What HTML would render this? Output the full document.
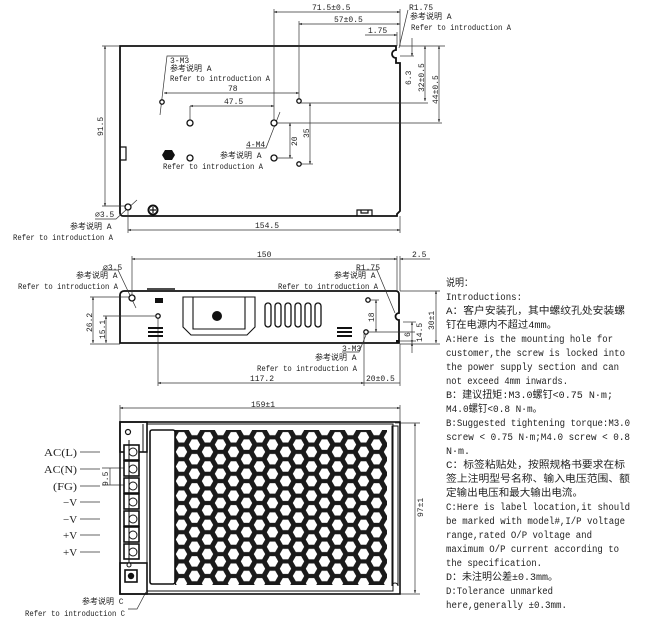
<!DOCTYPE html>
<html><head><meta charset="utf-8"><style>
html,body{margin:0;padding:0;background:#fff;}
svg{display:block;}
text{font-family:"Liberation Mono","Noto Sans CJK SC",monospace;fill:#222;}
.s{font-size:8px;}
.r{font-size:10px;}
text.sf{font-family:"Liberation Serif",serif;font-size:11px;}
</style></head><body>
<svg width="659" height="619" viewBox="0 0 659 619" xmlns="http://www.w3.org/2000/svg">
<defs>
<marker id="a" viewBox="0 0 10 10" refX="10" refY="5" markerWidth="6" markerHeight="4" orient="auto-start-reverse"><path d="M0,1 L10,5 L0,9z" fill="#222"/></marker>
<pattern id="hex" x="175" y="430" width="26" height="14.6" patternUnits="userSpaceOnUse">
<rect width="26" height="14.6" fill="#1a1a1a"/>
<polygon points="0.8,7.3 3.8,2.1 9.2,2.1 12.2,7.3 9.2,12.5 3.8,12.5" fill="#fff"/>
<polygon points="13.8,0 16.8,-5.2 22.2,-5.2 25.2,0 22.2,5.2 16.8,5.2" fill="#fff"/>
<polygon points="13.8,14.6 16.8,9.4 22.2,9.4 25.2,14.6 22.2,19.8 16.8,19.8" fill="#fff"/>
</pattern>
</defs>
<g stroke="#333" stroke-width="0.7" fill="none">
<path d="M120,46 H396 V50 A3,3 0 0 0 396,58 V63 H400 V211 L397,214 V216 H123 A3,3 0 0 1 120,213 Z" stroke="#111" stroke-width="1.8"/>
<path d="M120,147 H126 V160 H120" stroke="#111" stroke-width="1.2"/>
<path d="M357,216 V210 H372 V216 M361,210 V213 H368 V210" stroke="#111" stroke-width="1.2"/>
<line x1="274" y1="12" x2="400" y2="12" marker-start="url(#a)" marker-end="url(#a)"/>
<line x1="299" y1="24" x2="400" y2="24" marker-start="url(#a)" marker-end="url(#a)"/>
<line x1="365" y1="35" x2="397" y2="35" marker-end="url(#a)"/>
<line x1="274" y1="9" x2="274" y2="122"/>
<line x1="299" y1="21" x2="299" y2="101"/>
<line x1="400" y1="9" x2="400" y2="46"/>
<line x1="397" y1="32" x2="397" y2="46"/>
<line x1="408" y1="10" x2="399" y2="48"/>
<line x1="400" y1="56" x2="414" y2="56"/>
<line x1="412" y1="38" x2="412" y2="56" marker-end="url(#a)"/>
<line x1="400" y1="46" x2="445" y2="46"/>
<line x1="425" y1="46" x2="425" y2="101" marker-start="url(#a)" marker-end="url(#a)"/>
<line x1="439" y1="46" x2="439" y2="122" marker-start="url(#a)" marker-end="url(#a)"/>
<line x1="300" y1="103" x2="428" y2="103"/>
<line x1="276" y1="123" x2="442" y2="123"/>
<line x1="105" y1="46" x2="105" y2="206" marker-start="url(#a)" marker-end="url(#a)"/>
<line x1="102" y1="46" x2="120" y2="46"/>
<line x1="102" y1="206" x2="125" y2="206"/>
<line x1="128" y1="230" x2="400" y2="230" marker-start="url(#a)" marker-end="url(#a)"/>
<line x1="128" y1="210" x2="128" y2="233"/>
<line x1="400" y1="216" x2="400" y2="233"/>
<line x1="164" y1="93" x2="299" y2="93" marker-start="url(#a)" marker-end="url(#a)"/>
<line x1="190" y1="106" x2="274" y2="106" marker-start="url(#a)" marker-end="url(#a)"/>
<line x1="190" y1="106" x2="190" y2="120"/>
<line x1="290" y1="123" x2="290" y2="158" marker-start="url(#a)" marker-end="url(#a)"/>
<line x1="276" y1="158" x2="293" y2="158"/>
<line x1="310" y1="103" x2="310" y2="164" marker-start="url(#a)" marker-end="url(#a)"/>
<line x1="301" y1="164" x2="313" y2="164"/>
<polyline points="188,56 167,56 160,115"/>
<polyline points="246,148 266,148 280,112"/>
<polyline points="95,219 116,219 137,200"/>
</g>
<g fill="#fff" stroke="#111" stroke-width="1.3">
<circle cx="162" cy="102" r="2.2"/><circle cx="190" cy="123" r="3"/><circle cx="274" cy="123" r="3"/>
<circle cx="299" cy="101" r="2.2"/><circle cx="190" cy="158" r="3"/><circle cx="274" cy="158" r="3"/>
<circle cx="299" cy="164" r="2.2"/><circle cx="128" cy="207" r="3"/>
<circle cx="153" cy="210" r="4.5" stroke-width="2"/>
</g>
<polygon points="165,150 172,150 175,155 172,160 165,160 162,155" fill="#111"/>
<path d="M150,210 H156 M153,207 V213" stroke="#111" stroke-width="1.2"/>
<g class="s">
<text x="312" y="10">71.5±0.5</text>
<text x="334" y="22">57±0.5</text>
<text x="368" y="33">1.75</text>
<text x="409" y="10">R1.75</text>
<text x="410" y="19">参考说明 A</text>
<text x="411" y="30" textLength="100" lengthAdjust="spacingAndGlyphs">Refer to introduction A</text>
<text x="170" y="63">3-M3</text>
<text x="170" y="71">参考说明 A</text>
<text x="170" y="81" textLength="100" lengthAdjust="spacingAndGlyphs">Refer to introduction A</text>
<text x="228" y="91">78</text>
<text x="224" y="104">47.5</text>
<text x="246" y="147">4-M4</text>
<text x="220" y="158">参考说明 A</text>
<text x="163" y="169" textLength="100" lengthAdjust="spacingAndGlyphs">Refer to introduction A</text>
<text x="95" y="217">⌀3.5</text>
<text x="70" y="229">参考说明 A</text>
<text x="13" y="240" textLength="100" lengthAdjust="spacingAndGlyphs">Refer to introduction A</text>
<text x="255" y="228">154.5</text>
<text transform="translate(103,136) rotate(-90)">91.5</text>
<text transform="translate(297,146) rotate(-90)">20</text>
<text transform="translate(309,138) rotate(-90)">35</text>
<text transform="translate(411,85) rotate(-90)">6.3</text>
<text transform="translate(424,92) rotate(-90)">32±0.5</text>
<text transform="translate(438,104) rotate(-90)">44±0.5</text>
</g>

<g stroke="#333" stroke-width="0.7" fill="none">
<path d="M124,291 H396 A3,3 0 0 1 399,294 V313 A3,3 0 0 0 399,320 V343 H120 V295 A4,4 0 0 1 124,291 Z" stroke="#111" stroke-width="1.8"/>
<line x1="147" y1="289" x2="175" y2="289" stroke="#111" stroke-width="1.5"/>
<path d="M183,297 H255 V327 L247,335 H191 L183,327 Z M193,297 V329 H245 V297" stroke="#111" stroke-width="1.1"/>
<line x1="132" y1="259" x2="397" y2="259" marker-start="url(#a)" marker-end="url(#a)"/>
<line x1="132" y1="256" x2="132" y2="296"/>
<line x1="397" y1="256" x2="397" y2="291"/>
<line x1="400" y1="256" x2="400" y2="291"/>
<line x1="430" y1="259" x2="400" y2="259" marker-end="url(#a)"/>
<line x1="380" y1="259" x2="397" y2="259"/>
<polyline points="102,270 118,270 136,308"/>
<polyline points="356,270 377,270 395,313"/>
<line x1="93" y1="297" x2="93" y2="343" marker-start="url(#a)" marker-end="url(#a)"/>
<line x1="90" y1="297" x2="130" y2="297"/>
<line x1="106" y1="316" x2="106" y2="343" marker-start="url(#a)" marker-end="url(#a)"/>
<line x1="103" y1="316" x2="155" y2="316"/>
<line x1="90" y1="344" x2="120" y2="344"/>
<line x1="376" y1="300" x2="376" y2="332" marker-start="url(#a)" marker-end="url(#a)"/>
<line x1="370" y1="300" x2="379" y2="300"/>
<line x1="368" y1="332" x2="415" y2="332"/>
<line x1="436" y1="291" x2="436" y2="343" marker-start="url(#a)" marker-end="url(#a)"/>
<line x1="400" y1="291" x2="440" y2="291"/><line x1="400" y1="344" x2="440" y2="344"/>
<line x1="412" y1="322" x2="412" y2="343" marker-start="url(#a)" marker-end="url(#a)"/>
<line x1="403" y1="322" x2="416" y2="322"/>
<line x1="412" y1="353" x2="412" y2="343" marker-end="url(#a)"/>
<line x1="400" y1="341" x2="416" y2="341"/>
<polyline points="342,352 359,352 368,330"/>
<line x1="158" y1="318" x2="158" y2="386"/>
<line x1="364" y1="334" x2="364" y2="386"/>
<line x1="400" y1="344" x2="400" y2="386"/>
<line x1="158" y1="383" x2="364" y2="383" marker-start="url(#a)" marker-end="url(#a)"/>
<line x1="364" y1="383" x2="400" y2="383"/>
</g>
<g fill="#fff" stroke="#111" stroke-width="1.3">
<circle cx="132" cy="298" r="3"/><circle cx="158" cy="316" r="2.2"/>
<circle cx="368" cy="300" r="2.2"/><circle cx="366" cy="332" r="2.2"/>
<rect x="265" y="303" width="6" height="24" rx="3"/><rect x="275" y="303" width="6" height="24" rx="3"/>
<rect x="285" y="303" width="6" height="24" rx="3"/><rect x="295" y="303" width="6" height="24" rx="3"/>
<rect x="305" y="303" width="6" height="24" rx="3"/><rect x="315" y="303" width="6" height="24" rx="3"/>
</g>
<circle cx="217" cy="316" r="5" fill="#111"/>
<rect x="155" y="298" width="8" height="5" fill="#111"/>
<g fill="#111">
<rect x="148" y="327" width="15" height="2"/><rect x="148" y="331" width="15" height="2"/><rect x="148" y="335" width="15" height="2"/>
<rect x="337" y="327" width="15" height="2"/><rect x="337" y="331" width="15" height="2"/><rect x="337" y="335" width="15" height="2"/>
<rect x="396" y="340" width="3" height="3"/>
</g>
<g class="s">
<text x="257" y="257">150</text>
<text x="412" y="257">2.5</text>
<text x="103" y="270">⌀3.5</text>
<text x="76" y="278">参考说明 A</text>
<text x="18" y="289" textLength="100" lengthAdjust="spacingAndGlyphs">Refer to introduction A</text>
<text x="356" y="270">R1.75</text>
<text x="334" y="278">参考说明 A</text>
<text x="278" y="289" textLength="100" lengthAdjust="spacingAndGlyphs">Refer to introduction A</text>
<text x="342" y="351">3-M3</text>
<text x="315" y="360">参考说明 A</text>
<text x="257" y="371" textLength="100" lengthAdjust="spacingAndGlyphs">Refer to introduction A</text>
<text x="250" y="381">117.2</text>
<text x="366" y="381">20±0.5</text>
<text transform="translate(92,332) rotate(-90)">26.2</text>
<text transform="translate(105,339) rotate(-90)">15.1</text>
<text transform="translate(374,322) rotate(-90)">18</text>
<text transform="translate(410,337) rotate(-90)">6</text>
<text transform="translate(422,342) rotate(-90)">14.5</text>
<text transform="translate(434,330) rotate(-90)">30±1</text>
</g>

<g stroke="#333" stroke-width="0.7" fill="none">
<line x1="120" y1="408" x2="400" y2="408" marker-start="url(#a)" marker-end="url(#a)"/>
<line x1="120" y1="405" x2="120" y2="422"/><line x1="400" y1="405" x2="400" y2="422"/>
<line x1="415" y1="423" x2="415" y2="593" marker-start="url(#a)" marker-end="url(#a)"/>
<line x1="395" y1="423" x2="420" y2="423"/><line x1="395" y1="594" x2="420" y2="594"/>
<line x1="80" y1="452" x2="100" y2="452"/><line x1="80" y1="469" x2="100" y2="469"/>
<line x1="80" y1="486" x2="100" y2="486"/><line x1="80" y1="502" x2="100" y2="502"/>
<line x1="80" y1="519" x2="100" y2="519"/><line x1="80" y1="535" x2="100" y2="535"/>
<line x1="80" y1="552" x2="100" y2="552"/>
<line x1="102" y1="468" x2="125" y2="468"/><line x1="102" y1="485" x2="125" y2="485"/>
<line x1="110" y1="468" x2="110" y2="485"/>
<polyline points="128,609 137,609 146,592"/>
</g>
<rect x="175" y="430" width="212" height="155" fill="url(#hex)"/>
<g fill="none" stroke="#111" stroke-width="1.6">
<rect x="120" y="422" width="280" height="172"/>
<rect x="120" y="422" width="27" height="30"/>
<rect x="150" y="430" width="25" height="154" rx="2"/>
<rect x="147" y="424" width="246" height="167" stroke-width="1"/>
<path d="M392,426 H398 V586 A3,3 0 0 0 392,586 Z" stroke-width="1"/>
<rect x="120" y="563" width="27" height="31"/>
<rect x="125" y="570" width="12" height="12"/>
<line x1="143" y1="424" x2="143" y2="452" stroke-width="1"/>
</g>
<circle cx="128" cy="432" r="2.5" fill="#fff" stroke="#111" stroke-width="1.2"/>
<circle cx="131" cy="576" r="3.2" fill="#111"/>
<g stroke="#111" fill="#fff">
<rect x="124" y="445" width="15" height="15" stroke-width="1.6"/>
<rect x="124" y="461" width="15" height="15" stroke-width="1.6"/>
<rect x="124" y="478" width="15" height="15" stroke-width="1.6"/>
<rect x="124" y="494" width="15" height="15" stroke-width="1.6"/>
<rect x="124" y="511" width="15" height="15" stroke-width="1.6"/>
<rect x="124" y="527" width="15" height="15" stroke-width="1.6"/>
<rect x="124" y="544" width="15" height="15" stroke-width="1.6"/>
<circle cx="133" cy="452" r="4"/><circle cx="133" cy="469" r="4"/><circle cx="133" cy="486" r="4"/>
<circle cx="133" cy="502" r="4"/><circle cx="133" cy="519" r="4"/><circle cx="133" cy="535" r="4"/>
<circle cx="133" cy="552" r="4"/>
<line x1="129" y1="440" x2="129" y2="565" stroke-width="1"/>
<circle cx="129" cy="565" r="2" stroke-width="1"/>
</g>
<g class="s">
<text x="251" y="407">159±1</text>
<text transform="translate(423,517) rotate(-90)">97±1</text>
<text x="82" y="604">参考说明 C</text>
<text x="25" y="616" textLength="100" lengthAdjust="spacingAndGlyphs">Refer to introduction C</text>
<text transform="translate(108,486) rotate(-90)">9.5</text>
</g>
<g>
<text class="sf" x="44" y="456" textLength="33" lengthAdjust="spacingAndGlyphs">AC(L)</text>
<text class="sf" x="44" y="473" textLength="33" lengthAdjust="spacingAndGlyphs">AC(N)</text>
<text class="sf" x="53" y="490" textLength="24" lengthAdjust="spacingAndGlyphs">(FG)</text>
<text class="sf" x="63" y="506">−V</text>
<text class="sf" x="63" y="523">−V</text>
<text class="sf" x="63" y="539">+V</text>
<text class="sf" x="63" y="556">+V</text>
</g>

<g class="r">
<text x="446" y="286" textLength="27" lengthAdjust="spacingAndGlyphs">说明：</text>
<text x="446" y="300" textLength="76" lengthAdjust="spacingAndGlyphs">Introductions:</text>
<text x="446" y="314" textLength="179" lengthAdjust="spacingAndGlyphs">A：客户安装孔，其中螺纹孔处安装螺</text>
<text x="446" y="328" textLength="111" lengthAdjust="spacingAndGlyphs">钉在电源内不超过4mm。</text>
<text x="446" y="342" textLength="167" lengthAdjust="spacingAndGlyphs">A:Here is the mounting hole for</text>
<text x="446" y="356" textLength="179" lengthAdjust="spacingAndGlyphs">customer,the screw is locked into</text>
<text x="446" y="370" textLength="173" lengthAdjust="spacingAndGlyphs">the power supply section and can</text>
<text x="446" y="384" textLength="122" lengthAdjust="spacingAndGlyphs">not exceed 4mm inwards.</text>
<text x="446" y="398" textLength="167" lengthAdjust="spacingAndGlyphs">B：建议扭矩:M3.0螺钉&lt;0.75 N·m;</text>
<text x="446" y="412" textLength="96" lengthAdjust="spacingAndGlyphs">M4.0螺钉&lt;0.8 N·m。</text>
<text x="446" y="426" textLength="184" lengthAdjust="spacingAndGlyphs">B:Suggested tightening torque:M3.0</text>
<text x="446" y="440" textLength="184" lengthAdjust="spacingAndGlyphs">screw &lt; 0.75 N·m;M4.0 screw &lt; 0.8</text>
<text x="446" y="454" textLength="24" lengthAdjust="spacingAndGlyphs">N·m.</text>
<text x="446" y="468" textLength="179" lengthAdjust="spacingAndGlyphs">C：标签粘贴处，按照规格书要求在标</text>
<text x="446" y="482" textLength="184" lengthAdjust="spacingAndGlyphs">签上注明型号名称、输入电压范围、额</text>
<text x="446" y="496" textLength="137" lengthAdjust="spacingAndGlyphs">定输出电压和最大输出电流。</text>
<text x="446" y="510" textLength="184" lengthAdjust="spacingAndGlyphs">C:Here is label location,it should</text>
<text x="446" y="524" textLength="179" lengthAdjust="spacingAndGlyphs">be marked with model#,I/P voltage</text>
<text x="446" y="538" textLength="146" lengthAdjust="spacingAndGlyphs">range,rated O/P voltage and</text>
<text x="446" y="552" textLength="173" lengthAdjust="spacingAndGlyphs">maximum O/P current according to</text>
<text x="446" y="566" textLength="96" lengthAdjust="spacingAndGlyphs">the specification.</text>
<text x="446" y="580" textLength="112" lengthAdjust="spacingAndGlyphs">D：未注明公差±0.3mm。</text>
<text x="446" y="594" textLength="107" lengthAdjust="spacingAndGlyphs">D:Tolerance unmarked</text>
<text x="446" y="608" textLength="121" lengthAdjust="spacingAndGlyphs">here,generally ±0.3mm.</text>
</g>
</svg>
</body></html>
